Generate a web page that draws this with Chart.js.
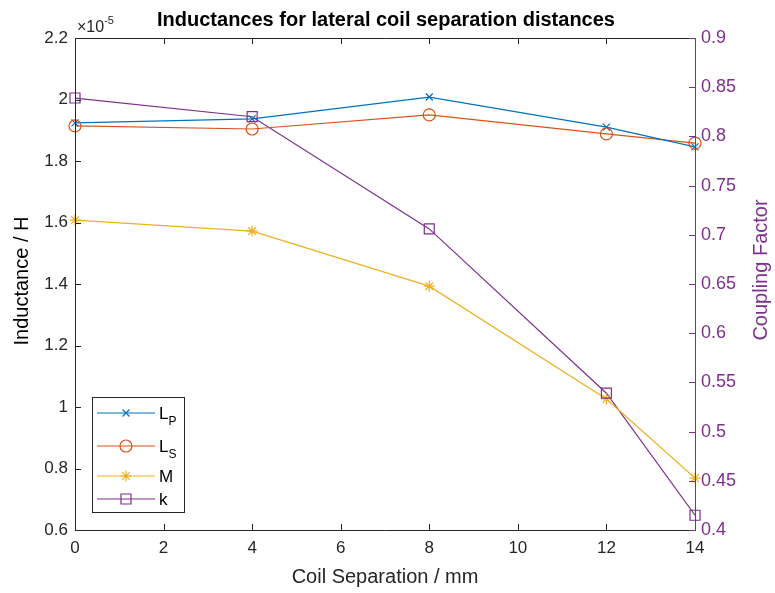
<!DOCTYPE html>
<html>
<head>
<meta charset="utf-8">
<script src="https://cdn.jsdelivr.net/npm/chart.js@4/dist/chart.umd.min.js"></script>
<style>
  html, body { margin: 0; padding: 0; background: #fff; }
  #wrap { width: 775px; height: 593px; }
</style>
</head>
<body>
<div id="wrap"><canvas id="coilChart"></canvas></div>
<script>
// separation in mm
const separation = [0, 4, 8, 12, 14];
// inductances, in units of 1e-5 H
const primaryL = [1.924, 1.937, 2.008, 1.910, 1.846];
const secondaryL = [1.914, 1.904, 1.950, 1.888, 1.858];
const mutualM = [1.608, 1.572, 1.393, 1.026, 0.769];
// coupling factor (right axis)
const couplingK = [0.839, 0.820, 0.706, 0.539, 0.415];

const xTicks = [0, 2, 4, 6, 8, 10, 12, 14];
const leftTicks = [0.6, 0.8, 1, 1.2, 1.4, 1.6, 1.8, 2, 2.2];
const rightTicks = [0.4, 0.45, 0.5, 0.55, 0.6, 0.65, 0.7, 0.75, 0.8, 0.85, 0.9];

const BLUE = '#0072BD', RED = '#D95319', YELLOW = '#EDB120', PURPLE = '#7E2F8E';
const INK = '#262626';
const FONT = '"Liberation Sans", Arial, Helvetica, sans-serif';

function pts(ys) {
  return separation.map((x, i) => ({ x: x, y: ys[i] }));
}

function drawMarker(ctx, style, x, y, color) {
  ctx.save();
  ctx.strokeStyle = color;
  ctx.lineWidth = 1.2;
  ctx.beginPath();
  if (style === 'x') {
    const r = 3.5;
    ctx.moveTo(x - r, y - r); ctx.lineTo(x + r, y + r);
    ctx.moveTo(x - r, y + r); ctx.lineTo(x + r, y - r);
  } else if (style === 'o') {
    ctx.arc(x, y, 6, 0, Math.PI * 2);
  } else if (style === '*') {
    const r = 5.5, d = r * 0.7;
    ctx.moveTo(x - r, y); ctx.lineTo(x + r, y);
    ctx.moveTo(x, y - r); ctx.lineTo(x, y + r);
    ctx.moveTo(x - d, y - d); ctx.lineTo(x + d, y + d);
    ctx.moveTo(x - d, y + d); ctx.lineTo(x + d, y - d);
  } else if (style === 's') {
    ctx.rect(x - 5, y - 5, 10, 10);
  }
  ctx.stroke();
  ctx.restore();
}

const series = [
  { label: 'L', sub: 'P', data: primaryL, color: BLUE, marker: 'x', axis: 'y' },
  { label: 'L', sub: 'S', data: secondaryL, color: RED, marker: 'o', axis: 'y' },
  { label: 'M', sub: '', data: mutualM, color: YELLOW, marker: '*', axis: 'y' },
  { label: 'k', sub: '', data: couplingK, color: PURPLE, marker: 's', axis: 'y1' }
];

const fmt = v => String(+v.toFixed(2));

// axes box, inward ticks, tick labels, titles, markers and legend
const matlabLook = {
  id: 'matlabLook',
  afterDatasetsDraw(chart) {
    const ctx = chart.ctx;
    const a = chart.chartArea;
    const sx = chart.scales.x, sl = chart.scales.y, sr = chart.scales.y1;

    // markers on each point
    series.forEach((s, i) => {
      const meta = chart.getDatasetMeta(i);
      meta.data.forEach(p => drawMarker(ctx, s.marker, p.x, p.y, s.color));
    });

    ctx.save();
    ctx.lineWidth = 1;
    ctx.strokeStyle = INK;
    ctx.beginPath();
    ctx.moveTo(a.right, a.top + 0.5); ctx.lineTo(a.left + 0.5, a.top + 0.5);
    ctx.lineTo(a.left + 0.5, a.bottom + 0.5); ctx.lineTo(a.right, a.bottom + 0.5);
    xTicks.forEach(v => {
      const px = Math.round(sx.getPixelForValue(v)) + 0.5;
      ctx.moveTo(px, a.bottom); ctx.lineTo(px, a.bottom - 6);
      ctx.moveTo(px, a.top); ctx.lineTo(px, a.top + 6);
    });
    leftTicks.forEach(v => {
      const py = Math.round(sl.getPixelForValue(v)) + 0.5;
      ctx.moveTo(a.left, py); ctx.lineTo(a.left + 6, py);
    });
    ctx.stroke();

    ctx.strokeStyle = PURPLE;
    ctx.beginPath();
    ctx.moveTo(a.right + 0.5, a.top); ctx.lineTo(a.right + 0.5, a.bottom + 1);
    rightTicks.forEach(v => {
      const py = Math.round(sr.getPixelForValue(v)) + 0.5;
      ctx.moveTo(a.right, py); ctx.lineTo(a.right - 6, py);
    });
    ctx.stroke();

    // tick labels
    ctx.font = '17px ' + FONT;
    ctx.fillStyle = INK;
    ctx.textBaseline = 'middle';
    ctx.textAlign = 'center';
    xTicks.forEach(v => ctx.fillText(fmt(v), sx.getPixelForValue(v), a.bottom + 18));
    ctx.textAlign = 'right';
    leftTicks.forEach(v => ctx.fillText(fmt(v), a.left - 7, sl.getPixelForValue(v)));
    ctx.fillStyle = PURPLE;
    ctx.textAlign = 'left';
    ctx.font = '18px ' + FONT;
    rightTicks.forEach(v => ctx.fillText(fmt(v), a.right + 6, sr.getPixelForValue(v)));

    // axis titles
    ctx.font = '20px ' + FONT;
    ctx.textAlign = 'center';
    ctx.fillStyle = INK;
    ctx.fillText('Coil Separation / mm', (a.left + a.right) / 2, 577);
    ctx.save();
    ctx.translate(22, (a.top + a.bottom) / 2 - 3);
    ctx.rotate(-Math.PI / 2);
    ctx.fillStyle = '#000';
    ctx.fillText('Inductance / H', 0, 0);
    ctx.restore();
    ctx.save();
    ctx.translate(761, (a.top + a.bottom) / 2 - 14);
    ctx.rotate(-Math.PI / 2);
    ctx.fillStyle = PURPLE;
    ctx.fillText('Coupling Factor', 0, 0);
    ctx.restore();

    // exponent over the left axis
    ctx.fillStyle = INK;
    ctx.textBaseline = 'alphabetic';
    ctx.textAlign = 'left';
    ctx.font = '16px ' + FONT;
    ctx.fillText('\u00d710', a.left + 2, a.top - 6);
    const w = ctx.measureText('\u00d710').width;
    ctx.font = '11px ' + FONT;
    ctx.fillText('-5', a.left + 2 + w, a.top - 14);

    // title
    ctx.font = 'bold 20px ' + FONT;
    ctx.textAlign = 'center';
    ctx.fillStyle = '#000';
    ctx.fillText('Inductances for lateral coil separation distances', (a.left + a.right) / 2 + 1, 26);

    // legend
    const lx = 92, ly = 397, lw = 92, lh = 115;
    ctx.fillStyle = '#fff';
    ctx.fillRect(lx, ly, lw, lh);
    ctx.lineWidth = 1;
    ctx.strokeStyle = INK;
    ctx.strokeRect(lx + 0.5, ly + 0.5, lw, lh);
    const rows = [413, 446, 476, 499];
    series.forEach((s, i) => {
      const y = rows[i];
      ctx.strokeStyle = s.color;
      ctx.lineWidth = 1.2;
      ctx.beginPath();
      ctx.moveTo(97, y); ctx.lineTo(155, y);
      ctx.stroke();
      drawMarker(ctx, s.marker, 126, y, s.color);
      ctx.fillStyle = '#000';
      ctx.textAlign = 'left';
      ctx.font = '17px ' + FONT;
      ctx.fillText(s.label, 159, y + 6);
      if (s.sub) {
        const lw2 = ctx.measureText(s.label).width;
        ctx.font = '12px ' + FONT;
        ctx.fillText(s.sub, 159 + lw2, y + 12);
      }
    });
    ctx.restore();
  }
};

new Chart(document.getElementById('coilChart'), {
  type: 'line',
  data: {
    datasets: series.map(s => ({
      label: s.label + s.sub,
      data: pts(s.data),
      yAxisID: s.axis,
      borderColor: s.color,
      backgroundColor: s.color,
      borderWidth: 1.2,
      pointRadius: 0,
      tension: 0,
      fill: false
    }))
  },
  options: {
    responsive: true,
    maintainAspectRatio: false,
    animation: false,
    layout: { padding: { top: 38, left: 0, right: 0, bottom: 0 } },
    plugins: {
      legend: { display: false },
      tooltip: { enabled: false },
      title: { display: false }
    },
    scales: {
      x: {
        type: 'linear',
        min: 0, max: 14,
        afterFit: s => { s.height = 63; },
        grid: { display: false, drawTicks: false },
        border: { display: false },
        ticks: { display: false }
      },
      y: {
        position: 'left',
        min: 0.6, max: 2.2,
        afterFit: s => { s.width = 75; },
        grid: { display: false, drawTicks: false },
        border: { display: false },
        ticks: { display: false }
      },
      y1: {
        position: 'right',
        min: 0.4, max: 0.9,
        afterFit: s => { s.width = 80; },
        grid: { display: false, drawTicks: false },
        border: { display: false },
        ticks: { display: false }
      }
    }
  },
  plugins: [matlabLook]
});
</script>
</body>
</html>
